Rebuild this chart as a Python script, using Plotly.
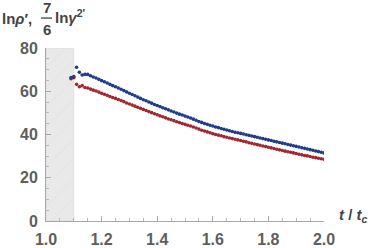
import plotly.graph_objects as go

t_vals = [1.09, 1.10, 1.11, 1.12, 1.13, 1.14, 1.15, 1.16, 1.17, 1.18, 1.19,
          1.20, 1.21, 1.22, 1.23, 1.24, 1.25, 1.26, 1.27, 1.28, 1.29,
          1.30, 1.31, 1.32, 1.33, 1.34, 1.35, 1.36, 1.37, 1.38, 1.39,
          1.40, 1.41, 1.42, 1.43, 1.44, 1.45, 1.46, 1.47, 1.48, 1.49,
          1.50, 1.51, 1.52, 1.53, 1.54, 1.55, 1.56, 1.57, 1.58, 1.59,
          1.60, 1.61, 1.62, 1.63, 1.64, 1.65, 1.66, 1.67, 1.68, 1.69,
          1.70, 1.71, 1.72, 1.73, 1.74, 1.75, 1.76, 1.77, 1.78, 1.79,
          1.80, 1.81, 1.82, 1.83, 1.84, 1.85, 1.86, 1.87, 1.88, 1.89,
          1.90, 1.91, 1.92, 1.93, 1.94, 1.95, 1.96, 1.97, 1.98, 1.99, 2.00]

ln_rho = [66.3, 66.8, 71.1, 68.8, 67.5, 67.8, 67.8, 67.2, 66.6, 66.1, 65.5,
          64.9, 64.4, 63.8, 63.2, 62.6, 62.1, 61.5, 60.9, 60.3, 59.7,
          59.1, 58.5, 57.9, 57.3, 56.7, 56.1, 55.6, 55.0, 54.5, 53.9,
          53.4, 52.9, 52.4, 51.9, 51.4, 50.9, 50.4, 49.9, 49.4, 49.0,
          48.5, 48.1, 47.6, 47.1, 46.6, 46.0, 45.6, 45.1, 44.7, 44.3,
          43.9, 43.5, 43.2, 42.8, 42.4, 42.1, 41.7, 41.4, 41.0, 40.8,
          40.5, 40.2, 39.9, 39.6, 39.3, 39.0, 38.7, 38.4, 38.1, 37.8,
          37.5, 37.2, 36.9, 36.6, 36.3, 36.0, 35.7, 35.4, 35.1, 34.8,
          34.5, 34.2, 33.9, 33.6, 33.3, 33.0, 32.7, 32.4, 32.1, 31.8, 31.5]

ln_gamma = [65.8, 66.3, 63.2, 62.1, 62.6, 61.7, 61.5, 61.0, 60.5, 60.1, 59.6,
            59.1, 58.6, 58.1, 57.6, 57.1, 56.7, 56.2, 55.7, 55.2, 54.6,
            54.1, 53.6, 53.1, 52.6, 52.1, 51.6, 51.1, 50.6, 50.1, 49.6,
            49.1, 48.6, 48.2, 47.7, 47.2, 46.8, 46.4, 45.9, 45.5, 45.1,
            44.7, 44.3, 43.9, 43.5, 43.0, 42.5, 42.0, 41.6, 41.2, 40.8,
            40.4, 40.0, 39.7, 39.4, 39.0, 38.7, 38.4, 38.1, 37.8, 37.5,
            37.2, 36.9, 36.6, 36.2, 35.9, 35.6, 35.3, 35.0, 34.7, 34.4,
            34.1, 33.8, 33.5, 33.2, 32.9, 32.6, 32.3, 32.0, 31.8, 31.5,
            31.2, 30.9, 30.6, 30.3, 30.1, 29.8, 29.5, 29.3, 29.0, 28.8, 28.5]

shade_range = [1.0, 1.1]
x_ticks = [1.0, 1.2, 1.4, 1.6, 1.8, 2.0]
x_labels = ["1.0", "1.2", "1.4", "1.6", "1.8", "2.0"]
y_ticks = [0, 20, 40, 60, 80]

BLUE = "rgb(30,60,140)"
RED = "rgb(160,40,48)"
GRAY_TXT = "#5e5e5e"
FONT = "Liberation Sans"

fig = go.Figure()
fig.add_trace(go.Bar(
    x=[(shade_range[0] + shade_range[1]) / 2], y=[80], base=0,
    width=[shade_range[1] - shade_range[0]],
    marker=dict(color="#e8e8e8", line=dict(color="#d6d6d6", width=0.6),
                pattern=dict(shape="/", fgcolor="#d9d9d9", bgcolor="#e9e9e9", size=14, solidity=0.06)),
    hoverinfo="skip", showlegend=False))
fig.add_trace(go.Scatter(x=t_vals, y=ln_gamma, mode="markers",
                         marker=dict(color=RED, size=3.6), showlegend=False))
fig.add_trace(go.Scatter(x=t_vals, y=ln_rho, mode="markers",
                         marker=dict(color=BLUE, size=3.6), showlegend=False))

axis_common = dict(
    showgrid=False, zeroline=False, showline=True, linecolor="#a8a8a8", linewidth=1,
    ticks="inside", ticklen=5, tickcolor="#a8a8a8", tickwidth=1, automargin=False,
    tickfont=dict(family=FONT, size=16, color=GRAY_TXT, weight="bold"),
)

fig.update_layout(
    width=374, height=248,
    margin=dict(l=46, r=50, t=48, b=27),
    paper_bgcolor="white", plot_bgcolor="white",
    bargap=0,
    xaxis=dict(range=[1.0, 2.0], tickvals=x_ticks, ticktext=x_labels,
               minor=dict(dtick=0.05, tick0=1.0, ticks="inside", ticklen=3, tickcolor="#b8b8b8"),
               ticklabelstandoff=4, **axis_common),
    yaxis=dict(range=[0, 80], tickvals=y_ticks,
               minor=dict(dtick=5, tick0=0, ticks="inside", ticklen=3, tickcolor="#b8b8b8"),
               ticklabelstandoff=4, **axis_common),
)

title_font = dict(family=FONT, size=15, color="#444444", weight="bold")
fig.add_annotation(text="ln<i>ρ</i>′,", xref="paper", yref="paper", x=-0.165, y=1.17,
                   xanchor="left", yanchor="middle", showarrow=False, font=title_font)
fig.add_annotation(text="7", xref="paper", yref="paper", x=0.0036, y=1.235,
                   xanchor="center", yanchor="middle", showarrow=False, font=title_font)
fig.add_annotation(text="6", xref="paper", yref="paper", x=0.0036, y=1.105,
                   xanchor="center", yanchor="middle", showarrow=False, font=title_font)
fig.add_shape(type="line", xref="paper", yref="paper", x0=-0.018, x1=0.022, y0=1.173, y1=1.173,
              line=dict(color="#444444", width=1.3))
fig.add_annotation(text="ln<i>γ</i><sup>2′</sup>", xref="paper", yref="paper", x=0.024, y=1.18,
                   xanchor="left", yanchor="middle", showarrow=False, font=title_font)
fig.add_annotation(text="<i>t</i> / <i>t<sub>c</sub></i>", xref="paper", yref="paper", x=1.045, y=0.03,
                   xanchor="left", yanchor="middle", showarrow=False, font=title_font)

fig.write_html("out.html", config={"displayModeBar": False, "staticPlot": True},
               post_script="document.body.style.margin='0';document.body.style.overflow='hidden';")
